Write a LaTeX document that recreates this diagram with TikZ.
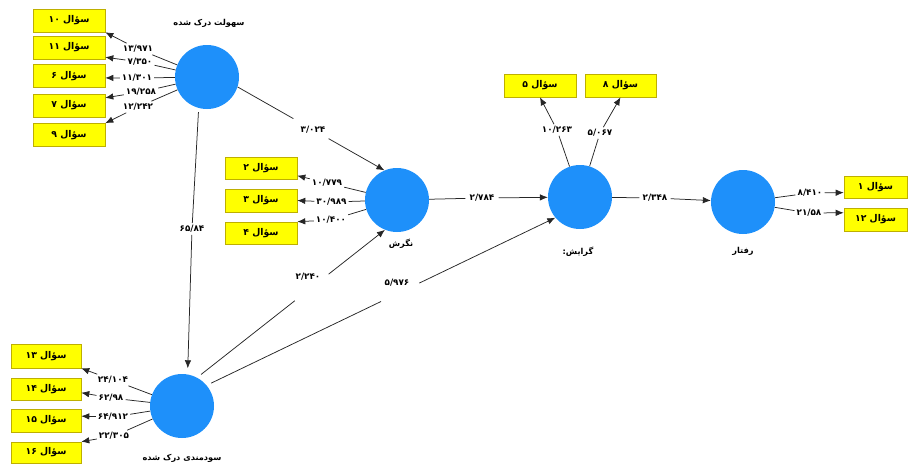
\documentclass[tikz,border=0pt]{standalone}
\usepackage{fontspec}
\TeXXeTstate=1
\newfontfamily\fa[Script=Arabic]{DejaVu Sans}
\usetikzlibrary{arrows.meta}
\definecolor{cblue}{RGB}{30,144,250}
\definecolor{cyel}{RGB}{255,255,0}
\definecolor{cbord}{RGB}{190,175,0}
\tikzset{
  lat/.style={circle, fill=cblue, draw=none, minimum size=64pt, inner sep=0pt},
  ind/.style={rectangle, fill=cyel, draw=cbord, line width=0.6pt, minimum width=72pt, minimum height=23pt, inner sep=0pt, font=\fa\bfseries\fontsize{9.3}{11}\selectfont},
  num/.style={font=\fa\bfseries\fontsize{8.8}{10}\selectfont, inner sep=2pt},
  lattext/.style={font=\fa\bfseries\fontsize{8.2}{10}\selectfont, inner sep=1pt},
  conn/.style={draw=black!85, line width=0.75pt},
  arr/.style={conn, -{Latex[length=8pt,width=6.5pt]}},
}
\begin{document}
\begin{tikzpicture}[x=1pt,y=-1pt]
\useasboundingbox (0,0) rectangle (908,467);
% latent variables
\node[lat] (c1) at (207,77) {};
\node[lat] (c2) at (397,200) {};
\node[lat] (c3) at (580,197) {};
\node[lat] (c4) at (743,202) {};
\node[lat] (c5) at (182,406) {};
\node[lattext] (t1) at (209,23) {\beginR سهولت درک شده\endR};
\node[lattext] (t2) at (401,244) {\beginR نگرش\endR};
\node[lattext] (t3) at (578,252) {\beginR گرایش:\endR};
\node[lattext] (t4) at (743,251) {\beginR رفتار\endR};
\node[lattext] (t5) at (182,458) {\beginR سودمندی درک شده\endR};
% indicator boxes
\node[ind] (b10) at (69,20.5) {\beginR سؤال ۱۰\endR};
\node[ind] (b11) at (69,47.5) {\beginR سؤال ۱۱\endR};
\node[ind] (b6) at (69,76) {\beginR سؤال ۶\endR};
\node[ind] (b7) at (69,105.5) {\beginR سؤال ۷\endR};
\node[ind] (b9) at (69,135) {\beginR سؤال ۹\endR};
\node[ind, minimum height=22pt] (b2) at (261,168) {\beginR سؤال ۲\endR};
\node[ind] (b3) at (261,200.5) {\beginR سؤال ۳\endR};
\node[ind, minimum height=22pt] (b4) at (261,233) {\beginR سؤال ۴\endR};
\node[ind, minimum width=70pt, minimum height=24pt] (b13) at (46,356) {\beginR سؤال ۱۳\endR};
\node[ind, minimum width=70pt, minimum height=22pt] (b14) at (46,389) {\beginR سؤال ۱۴\endR};
\node[ind, minimum width=70pt] (b15) at (46,420.5) {\beginR سؤال ۱۵\endR};
\node[ind, minimum width=70pt, minimum height=21pt] (b16) at (46,452.5) {\beginR سؤال ۱۶\endR};
\node[ind] (b5) at (540,85.5) {\beginR سؤال ۵\endR};
\node[ind, minimum width=71pt] (b8) at (620.5,85.5) {\beginR سؤال ۸\endR};
\node[ind, minimum width=63pt, minimum height=22pt] (b1) at (875.5,187) {\beginR سؤال ۱\endR};
\node[ind, minimum width=63pt] (b12) at (875.5,219.5) {\beginR سؤال ۱۲\endR};
% loading labels
\node[num] (l10) at (138,49) {۱۳/۹۷۱};
\node[num] (l11) at (140,62) {۷/۳۵۰};
\node[num] (l6) at (137,78) {۱۱/۳۰۱};
\node[num] (l7) at (141,92) {۱۹/۲۵۸};
\node[num] (l9) at (138,107) {۱۲/۲۴۲};
\node[num] (l2) at (327,183) {۱۰/۷۷۹};
\node[num] (l3) at (331.5,202) {۳۰/۹۸۹};
\node[num] (l4) at (331,220) {۱۰/۴۰۰};
\node[num] (l13) at (113,380) {۲۴/۱۰۴};
\node[num] (l14) at (111,398) {۶۲/۹۸};
\node[num] (l15) at (113,417) {۶۴/۹۱۲};
\node[num] (l16) at (114,436) {۲۲/۳۰۵};
\node[num] (l5) at (557,130) {۱۰/۲۶۳};
\node[num] (l8) at (600,133) {۵/۰۶۷};
\node[num] (l1) at (810,193) {۸/۴۱۰};
\node[num] (l12) at (809,213) {۲۱/۵۸};
% path labels
\node[num] (p12) at (313,130) {۳/۰۲۴};
\node[num] (p15) at (192,229) {۶۵/۸۴};
\node[num, inner sep=4pt] (p23) at (482,198) {۲/۷۸۴};
\node[num, inner sep=3pt] (p34) at (655,198) {۲/۳۴۸};
\node[num] (p52) at (308,277) {۲/۲۴۰};
\node[num] (p53) at (397,283) {۵/۹۷۶};
% outer loadings
\foreach \l/\b/\a in {l10/b10/south east, l11/b11/-15, l6/b6/-3, l7/b7/12, l9/b9/north east}{
  \draw[conn] (c1) -- (\l);
  \draw[arr] (\l) -- (\b.\a);
}
\foreach \l/\b/\a in {l2/b2/-12, l3/b3/east, l4/b4/north east}{
  \draw[conn] (c2) -- (\l);
  \draw[arr] (\l) -- (\b.\a);
}
\foreach \l/\b/\a in {l13/b13/south east, l14/b14/-6, l15/b15/7, l16/b16/north east}{
  \draw[conn] (c5) -- (\l);
  \draw[arr] (\l) -- (\b.\a);
}
\foreach \l/\b in {l5/b5, l8/b8}{
  \draw[conn] (c3) -- (\l);
  \draw[arr] (\l) -- (\b.south);
}
\draw[conn] (c4) -- (l1);
\draw[arr] (l1) -- (b1.190);
\draw[conn] (c4) -- (l12);
\draw[arr] (l12) -- (b12.168);
% structural paths
\path (c1.-18) -- coordinate[pos=0.38] (g1a) coordinate[pos=0.62] (g1b) (c2.113);
\draw[conn] (c1.-18) -- (g1a);
\draw[arr] (g1b) -- (c2.113);
\draw[conn, shorten <=4pt] (c1.-105) -- (p15);
\draw[arr, shorten >=6pt] (p15) -- (c5.80);
\draw[conn] (c2) -- (p23);
\draw[arr] (p23) -- (c3);
\draw[conn] (c3) -- (p34);
\draw[arr] (p34) -- (c4);
\path (c5.62) -- coordinate[pos=0.52] (g2a) coordinate[pos=0.70] (g2b) (c2.248);
\draw[conn, shorten <=5pt] (c5.62) -- (g2a);
\draw[arr] (g2b) -- (c2.248);
\path (c5.40) -- coordinate[pos=0.50] (g3a) coordinate[pos=0.61] (g3b) (c3.220);
\draw[conn, shorten <=5pt] (c5.40) -- (g3a);
\draw[arr] (g3b) -- (c3.220);
\end{tikzpicture}
\end{document}
